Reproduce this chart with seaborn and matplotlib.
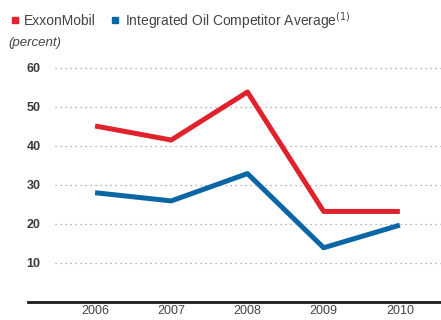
import matplotlib
matplotlib.use("Agg")
import matplotlib.pyplot as plt
import seaborn as sns
import pandas as pd
from matplotlib.lines import Line2D

years = [2006, 2007, 2008, 2009, 2010]
exxon = [45.1, 41.5, 53.8, 23.2, 23.2]
competitor = [28.0, 25.9, 32.9, 13.9, 19.7]
yticks = [10, 20, 30, 40, 50, 60]
series_names = ["ExxonMobil", "Integrated Oil Competitor Average$^{(1)}$"]
colors = ["#e0222c", "#0b66a6"]

sns.set_theme(style="white")
plt.rcParams["font.family"] = ["Liberation Sans", "DejaVu Sans"]

df = pd.DataFrame({
    "year": years * 2,
    "value": exxon + competitor,
    "series": [series_names[0]] * len(years) + [series_names[1]] * len(years),
})

fig = plt.figure(figsize=(4.41, 3.2), dpi=100)
ax = fig.add_axes([28 / 441, (320 - 302) / 320, (441 - 28) / 441, (302 - 60) / 320])

sns.lineplot(data=df, x="year", y="value", hue="series", palette=colors,
             linewidth=3.6, ax=ax, legend=False, solid_capstyle="butt")

ax.set_xlim(2005.12, 2010.54)
ax.set_ylim(0, 62)
for y in yticks:
    ax.axhline(y, xmin=(55 - 28) / 413, xmax=1, color="#9a9a9a", linestyle=(0, (1, 3)),
               linewidth=0.9, zorder=0)

ax.set_xticks(years)
ax.set_xticklabels([str(y) for y in years], fontsize=9, color="#444444")
ax.set_yticks(yticks)
ax.set_yticklabels([str(y) for y in yticks], fontsize=9, color="#3a3a3a", fontweight="bold")
ax.tick_params(axis="y", length=0, pad=-9.0)
ax.tick_params(axis="x", length=0, pad=2)
for lab in ax.get_yticklabels():
    lab.set_horizontalalignment("right")
ax.set_xlabel("")
ax.set_ylabel("")
for s in ["top", "right", "left"]:
    ax.spines[s].set_visible(False)
ax.spines["bottom"].set_color("#1a1a1a")
ax.spines["bottom"].set_linewidth(2.0)

handles = [Line2D([], [], marker="s", linestyle="none", color=c, markersize=5) for c in colors]
fig.legend(handles, series_names, loc="upper left", bbox_to_anchor=(0.0, 1.0),
           ncol=2, frameon=False, fontsize=10, handlelength=0.7, handletextpad=0.35,
           columnspacing=1.0, labelcolor="#444444", borderaxespad=0.3)
fig.text(8 / 441, 1 - 46 / 320, "(percent)", fontsize=9.5, style="italic", color="#444444")

fig.savefig("out.png", dpi=100)
